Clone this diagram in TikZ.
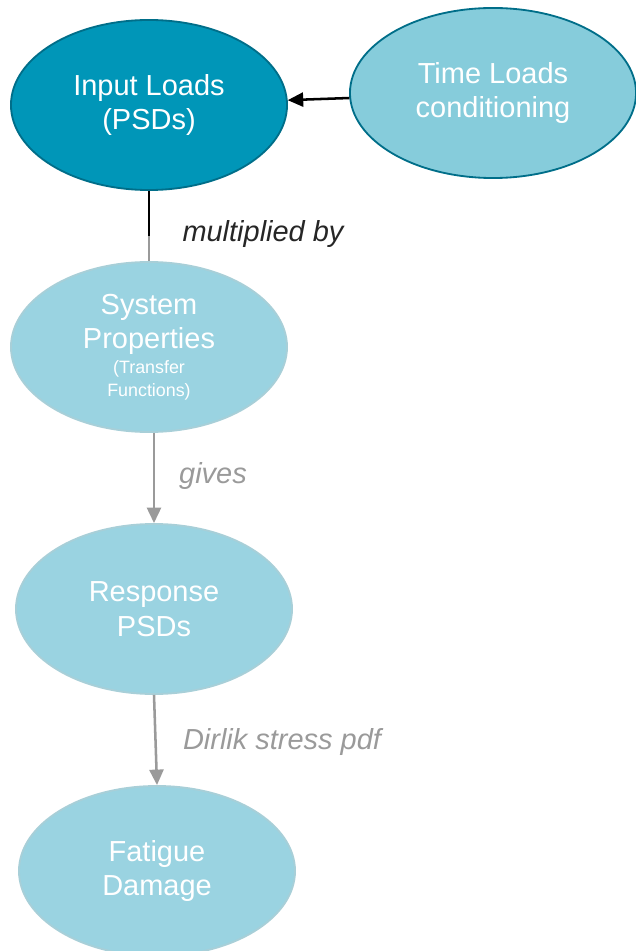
\documentclass[tikz,border=0pt]{standalone}
\usepackage{fontspec}
\setmainfont{Liberation Sans}
\usepackage{tikz}
\usetikzlibrary{arrows.meta,shapes.geometric}

\definecolor{darkteal}{HTML}{0096B8}
\definecolor{tealedge}{HTML}{006E89}
\definecolor{midteal}{HTML}{86CCDB}
\definecolor{lightteal}{HTML}{9AD3E1}
\definecolor{lightedge}{HTML}{A8CFD8}
\definecolor{arrowgray}{HTML}{9A9A9A}

\tikzset{
  bubble/.style={ellipse, minimum width=6.9cm, minimum height=4.25cm, inner sep=0pt,
    line width=1.3pt, text=white, align=center, font=\fontsize{20.6}{24.5}\selectfont},
  lbl/.style={font=\fontsize{20.6}{24.5}\selectfont\itshape, text=arrowgray},
  grayarrow/.style={arrowgray, line width=1.8pt, -{Triangle[length=11pt,width=10pt]}}
}

\begin{document}
\begin{tikzpicture}[x=0.025cm, y=-0.025cm]
    \useasboundingbox (0,0) rectangle (636,951); % page size
    \node[bubble, fill=darkteal, draw=tealedge] (input) at (149,105) {Input Loads\\(PSDs)};
    \node[bubble, fill=midteal, draw=tealedge, minimum width=7.15cm] (time) at (493,93) {Time Loads\\conditioning};
    \node[bubble, fill=lightteal, draw=lightedge] (sys) at (149,347)
        {System\\Properties\\[-7pt]{\fontsize{12.7}{16}\selectfont (Transfer}\\[-8pt]{\fontsize{12.7}{16}\selectfont Functions)}};
    \node[bubble, fill=lightteal, draw=lightedge] (resp) at (154,609) {Response\\PSDs};
    \node[bubble, fill=lightteal, draw=lightedge] (fat) at (157,871) {Fatigue\\Damage};
    \coordinate (mid) at (149,236); % colour change of the link
    \draw[black, line width=1.8pt, -{Triangle[length=11pt,width=10pt]}] (time) -- (input); % conditioning
    \draw[black, line width=1.8pt] (input) -- (mid);
    \draw[arrowgray, line width=1.8pt] (mid) -- (sys);
    \draw[grayarrow] (resp.north |- sys.south) -- (resp.north); % gives
    \draw[grayarrow] (resp.south) -- (fat.north); % dirlik
    \node[lbl, text=black!85] (mult) at (263,234) {multiplied by};
    \node[lbl] (gives) at (213,476) {gives};
    \node[lbl] (dirlik) at (282,742) {Dirlik stress pdf};
  \end{tikzpicture}
\end{document}
